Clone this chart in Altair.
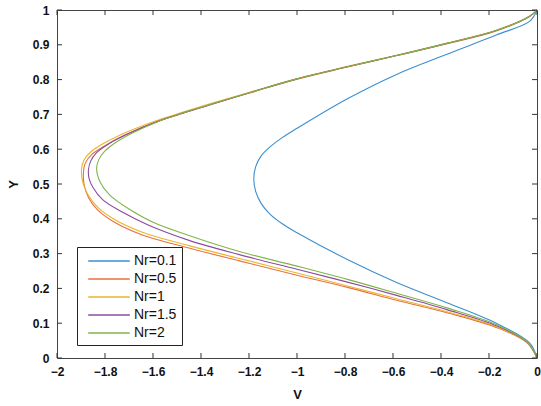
import altair as alt
import pandas as pd

series_names = ["Nr=0.1", "Nr=0.5", "Nr=1", "Nr=1.5", "Nr=2"]
series_colors = ["#3b8fcf", "#e8703c", "#e9b52c", "#8b4ba0", "#82b548"]

# (V, Y) points, traversed from (0,0) round the nose to (0,1)
v_nr01 = [0, -0.03, -0.17, -0.375, -0.585, -0.79, -1.0, -1.06, -1.115, -1.15, -1.172, -1.18, -1.172, -1.15, -1.115, -1.06, -1.0, -0.79, -0.585, -0.375, -0.17, -0.03, 0]
y_nr01 = [0, 0.043, 0.10, 0.159, 0.217, 0.283, 0.36, 0.385, 0.415, 0.445, 0.478, 0.515, 0.55, 0.58, 0.605, 0.634, 0.66, 0.745, 0.815, 0.873, 0.928, 0.968, 1.0]

v_nr05 = [0, -0.04, -0.17, -0.375, -0.585, -0.79, -1.0, -1.24, -1.45, -1.65, -1.76, -1.83, -1.868, -1.886, -1.89, -1.882, -1.855, -1.80, -1.72, -1.585, -1.375, -1.17, -1.0, -0.79, -0.585, -0.375, -0.17, -0.03, 0]
y_nr05 = [0, 0.043, 0.088, 0.13, 0.166, 0.203, 0.238, 0.279, 0.316, 0.355, 0.39, 0.425, 0.46, 0.495, 0.53, 0.56, 0.585, 0.61, 0.64, 0.679, 0.725, 0.767, 0.801, 0.836, 0.869, 0.903, 0.94, 0.982, 1.0]

v_nr1 = [0, -0.04, -0.17, -0.375, -0.585, -0.79, -1.0, -1.24, -1.45, -1.65, -1.76, -1.83, -1.87, -1.892, -1.898, -1.888, -1.86, -1.81, -1.73, -1.59, -1.38, -1.17, -1.0, -0.79, -0.585, -0.375, -0.17, -0.03, 0]
y_nr1 = [0, 0.044, 0.09, 0.133, 0.17, 0.207, 0.244, 0.286, 0.323, 0.363, 0.398, 0.433, 0.468, 0.503, 0.54, 0.568, 0.592, 0.615, 0.643, 0.681, 0.727, 0.769, 0.803, 0.838, 0.87, 0.905, 0.942, 0.983, 1.0]

v_nr15 = [0, -0.04, -0.17, -0.375, -0.585, -0.79, -1.0, -1.24, -1.45, -1.62, -1.73, -1.81, -1.85, -1.866, -1.869, -1.86, -1.835, -1.79, -1.71, -1.58, -1.375, -1.17, -1.0, -0.79, -0.585, -0.375, -0.17, -0.03, 0]
y_nr15 = [0, 0.045, 0.093, 0.139, 0.18, 0.218, 0.255, 0.297, 0.338, 0.382, 0.42, 0.455, 0.49, 0.515, 0.54, 0.565, 0.59, 0.613, 0.642, 0.68, 0.725, 0.768, 0.802, 0.837, 0.869, 0.904, 0.941, 0.982, 1.0]

v_nr2 = [0, -0.04, -0.17, -0.375, -0.585, -0.79, -1.0, -1.24, -1.45, -1.6, -1.7, -1.78, -1.82, -1.835, -1.826, -1.80, -1.76, -1.69, -1.57, -1.37, -1.165, -1.0, -0.79, -0.585, -0.375, -0.17, -0.03, 0]
y_nr2 = [0, 0.046, 0.096, 0.144, 0.186, 0.226, 0.264, 0.306, 0.352, 0.39, 0.428, 0.468, 0.505, 0.545, 0.57, 0.595, 0.617, 0.645, 0.682, 0.727, 0.769, 0.802, 0.837, 0.869, 0.904, 0.941, 0.982, 1.0]

x_ticks = [-2, -1.8, -1.6, -1.4, -1.2, -1, -0.8, -0.6, -0.4, -0.2, 0]
y_ticks = [0, 0.1, 0.2, 0.3, 0.4, 0.5, 0.6, 0.7, 0.8, 0.9, 1]

rows = []
for name, vs, ys in zip(series_names,
                        [v_nr01, v_nr05, v_nr1, v_nr15, v_nr2],
                        [y_nr01, y_nr05, y_nr1, y_nr15, y_nr2]):
    for i, (v, y) in enumerate(zip(vs, ys)):
        rows.append({"series": name, "V": v, "Y": y, "idx": i})
df = pd.DataFrame(rows)

W, H = 480, 348
TL = 5  # tick length in px
xt = pd.DataFrame({"x": x_ticks})
yt = pd.DataFrame({"y": y_ticks})

xscale = alt.Scale(domain=[-2, 0], nice=False, zero=False)
yscale = alt.Scale(domain=[0, 1], nice=False, zero=False)

xaxis = alt.Axis(values=x_ticks, format="~g", ticks=False, domain=False, grid=False,
                 labelPadding=8, titlePadding=11, labelFlush=False, labelOverlap=False)
yaxis = alt.Axis(values=y_ticks, format="~g", ticks=False, domain=False, grid=False,
                 labelPadding=8, titlePadding=12, labelFlush=False, labelOverlap=False,
                 labelBound=False)

lines = alt.Chart(df).mark_line(strokeWidth=1.1, interpolate="catmull-rom").encode(
    x=alt.X("V:Q", scale=xscale, title="V", axis=xaxis),
    y=alt.Y("Y:Q", scale=yscale, title="Y", axis=yaxis),
    color=alt.Color("series:N", scale=alt.Scale(domain=series_names, range=series_colors),
                    sort=series_names,
                    legend=alt.Legend(title=None, orient="none", legendX=20, legendY=237,
                                      symbolType="M-2.6,0H2.6", symbolSize=256,
                                      symbolStrokeWidth=1.6, symbolOffset=18,
                                      labelFont="Liberation Sans", labelFontSize=14,
                                      labelColor="#111", strokeColor="#222", fillColor="white",
                                      padding=5, rowPadding=2, labelOffset=16)),
    order=alt.Order("idx:Q"),
)

bx = alt.Chart(xt).mark_rule(color="#333", strokeWidth=1).encode(
    x=alt.X("x:Q", scale=xscale, title="V", axis=xaxis), y=alt.value(H), y2=alt.value(H - TL))
tx = alt.Chart(xt).mark_rule(color="#333", strokeWidth=1).encode(
    x=alt.X("x:Q", scale=xscale, title="V", axis=xaxis), y=alt.value(0), y2=alt.value(TL))
ly = alt.Chart(yt).mark_rule(color="#333", strokeWidth=1).encode(
    y=alt.Y("y:Q", scale=yscale, title="Y", axis=yaxis), x=alt.value(0), x2=alt.value(TL))
ry = alt.Chart(yt).mark_rule(color="#333", strokeWidth=1).encode(
    y=alt.Y("y:Q", scale=yscale, title="Y", axis=yaxis), x=alt.value(W), x2=alt.value(W - TL))

chart = alt.layer(lines, bx, tx, ly, ry).properties(
    width=W, height=H,
    padding={"left": 57, "top": 10, "right": 4, "bottom": 48},
    autosize=alt.AutoSizeParams(type="none"),
    background="white",
).configure_view(stroke="#444", strokeWidth=1).configure_axis(
    labelFont="Liberation Sans", labelFontSize=12, labelFontWeight="bold", labelColor="#111",
    titleFont="Liberation Sans", titleFontSize=13, titleFontWeight="bold", titleColor="#111",
)

chart.save("out.html", embed_options={"renderer": "svg", "actions": False})
